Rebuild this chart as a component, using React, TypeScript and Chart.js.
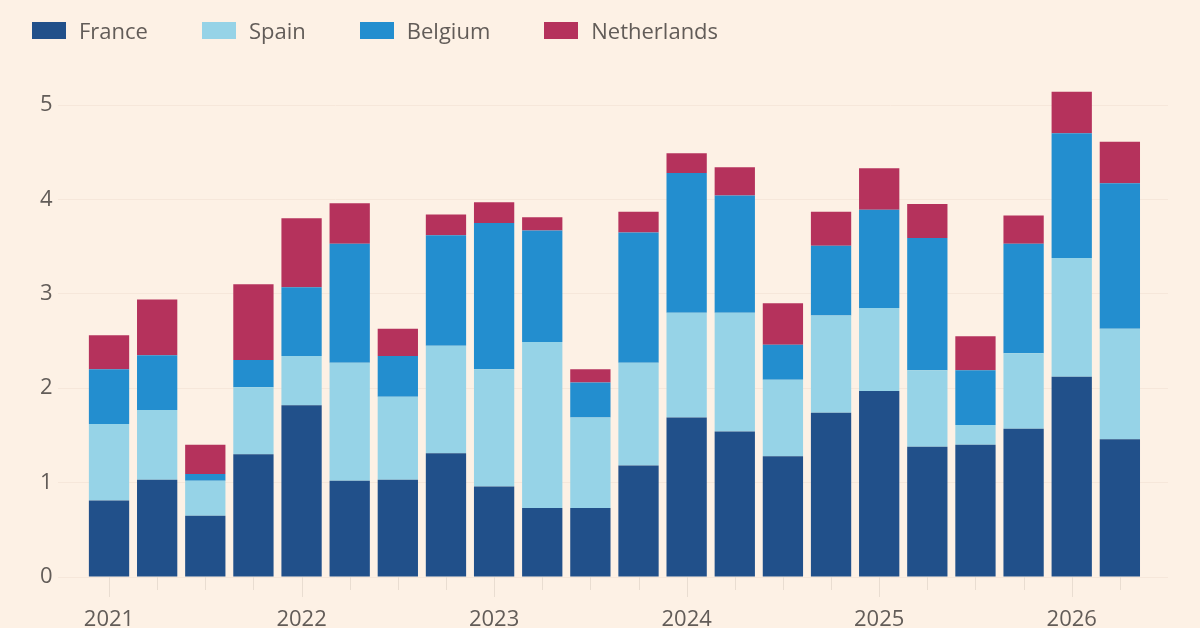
import React, { useEffect, useRef } from "react";
import { Chart, registerables } from "chart.js";

Chart.register(...registerables);

// Quarters from 2021 Q1 to 2026 Q2
const quarters = [
  "2021 Q1", "2021 Q2", "2021 Q3", "2021 Q4",
  "2022 Q1", "2022 Q2", "2022 Q3", "2022 Q4",
  "2023 Q1", "2023 Q2", "2023 Q3", "2023 Q4",
  "2024 Q1", "2024 Q2", "2024 Q3", "2024 Q4",
  "2025 Q1", "2025 Q2", "2025 Q3", "2025 Q4",
  "2026 Q1", "2026 Q2",
];
const yearLabels = ["2021", "2022", "2023", "2024", "2025", "2026"];

const france = [0.81, 1.03, 0.65, 1.3, 1.82, 1.02, 1.03, 1.31, 0.96, 0.73, 0.73, 1.18, 1.69, 1.54, 1.28, 1.74, 1.97, 1.38, 1.4, 1.57, 2.12, 1.46];
const spain = [0.81, 0.74, 0.37, 0.71, 0.52, 1.25, 0.88, 1.14, 1.24, 1.76, 0.96, 1.09, 1.11, 1.26, 0.81, 1.03, 0.88, 0.81, 0.21, 0.8, 1.26, 1.17];
const belgium = [0.58, 0.58, 0.07, 0.29, 0.73, 1.26, 0.43, 1.17, 1.55, 1.18, 0.37, 1.38, 1.48, 1.24, 0.37, 0.74, 1.04, 1.4, 0.58, 1.16, 1.32, 1.54];
const netherlands = [0.36, 0.59, 0.31, 0.8, 0.73, 0.43, 0.29, 0.22, 0.22, 0.14, 0.14, 0.22, 0.21, 0.3, 0.44, 0.36, 0.44, 0.36, 0.36, 0.3, 0.44, 0.44];

const seriesNames = ["France", "Spain", "Belgium", "Netherlands"];
const seriesValues = [france, spain, belgium, netherlands];
const seriesColors = ["#21508a", "#96d3e7", "#238ecf", "#b5325c"];

const yTicks = [0, 1, 2, 3, 4, 5];

const BG = "#fdf1e5";
const TEXT = "#625c58";
const FONT = "'Open Sans', 'DejaVu Sans', sans-serif";

const quarterTicks = {
  id: "quarterTicks",
  afterDraw(chart: any) {
    const x = chart.scales.x;
    const area = chart.chartArea;
    const ctx = chart.ctx;
    ctx.save();
    ctx.strokeStyle = "#e9ddd1";
    ctx.lineWidth = 1;
    quarters.forEach((_, i) => {
      const px = Math.round(x.getPixelForValue(i)) + 0.5;
      const len = i % 4 === 0 ? 20 : 13;
      ctx.beginPath();
      ctx.moveTo(px, area.bottom);
      ctx.lineTo(px, area.bottom + len);
      ctx.stroke();
    });
    ctx.restore();
  },
};

export default function App() {
  const ref = useRef<HTMLCanvasElement | null>(null);

  useEffect(() => {
    if (!ref.current) return;
    const chart = new Chart(ref.current, {
      type: "bar",
      data: {
        datasets: seriesNames.map((name, s) => ({
          label: name,
          data: seriesValues[s].map((v, i) => ({ x: i, y: v })),
          backgroundColor: seriesColors[s],
          borderWidth: 0,
          barPercentage: 0.837,
          categoryPercentage: 1,
        })),
      },
      options: {
        animation: false,
        responsive: false,
        maintainAspectRatio: false,
        layout: { padding: { top: 57.8, left: 40, right: 32, bottom: 0 } },
        plugins: {
          legend: { display: false },
          tooltip: { enabled: false },
        },
        scales: {
          x: {
            type: "linear",
            stacked: true,
            offset: false,
            min: -1.06,
            max: 22.0,
            grid: { display: false, drawTicks: false, offset: false },
            border: { display: false },
            ticks: {
              stepSize: 1,
              autoSkip: false,
              maxRotation: 0,
              includeBounds: false,
              padding: 30,
              color: TEXT,
              font: { family: FONT, size: 22 },
              callback: (value: any) => {
                const v = Number(value);
                if (Number.isInteger(v) && v >= 0 && v < quarters.length && v % 4 === 0) {
                  return yearLabels[v / 4];
                }
                return "";
              },
            },
            afterFit: (scale: any) => {
              scale.height = 51;
            },
          },
          y: {
            stacked: true,
            min: 0,
            max: 5.5,
            grid: { color: "#f6e7da", lineWidth: 1, drawTicks: false },
            border: { display: false },
            afterBuildTicks: (scale: any) => {
              scale.ticks = yTicks.map((v) => ({ value: v }));
            },
            ticks: {
              crossAlign: "far",
              color: TEXT,
              font: { family: FONT, size: 22 },
              padding: 0,
            },
            afterFit: (scale: any) => {
              scale.width = 18;
            },
          },
        },
      },
      plugins: [quarterTicks],
    });
    return () => chart.destroy();
  }, []);

  return (
    <div
      style={{
        position: "absolute",
        left: 0,
        top: 0,
        width: 1200,
        height: 628,
        background: BG,
        overflow: "hidden",
      }}
    >
      <canvas ref={ref} width={1200} height={628} style={{ position: "absolute", left: 0, top: 0 }} />
      <div
        style={{
          position: "absolute",
          left: 32,
          top: 15,
          display: "flex",
          alignItems: "center",
          fontFamily: FONT,
          fontSize: 22,
          color: TEXT,
          lineHeight: "30px",
        }}
      >
        {seriesNames.map((name, s) => (
          <div key={name} style={{ display: "flex", alignItems: "center", marginRight: 54 }}>
            <span
              style={{
                display: "inline-block",
                width: 34,
                height: 17,
                background: seriesColors[s],
                marginRight: 13,
              }}
            />
            <span>{name}</span>
          </div>
        ))}
      </div>
    </div>
  );
}
